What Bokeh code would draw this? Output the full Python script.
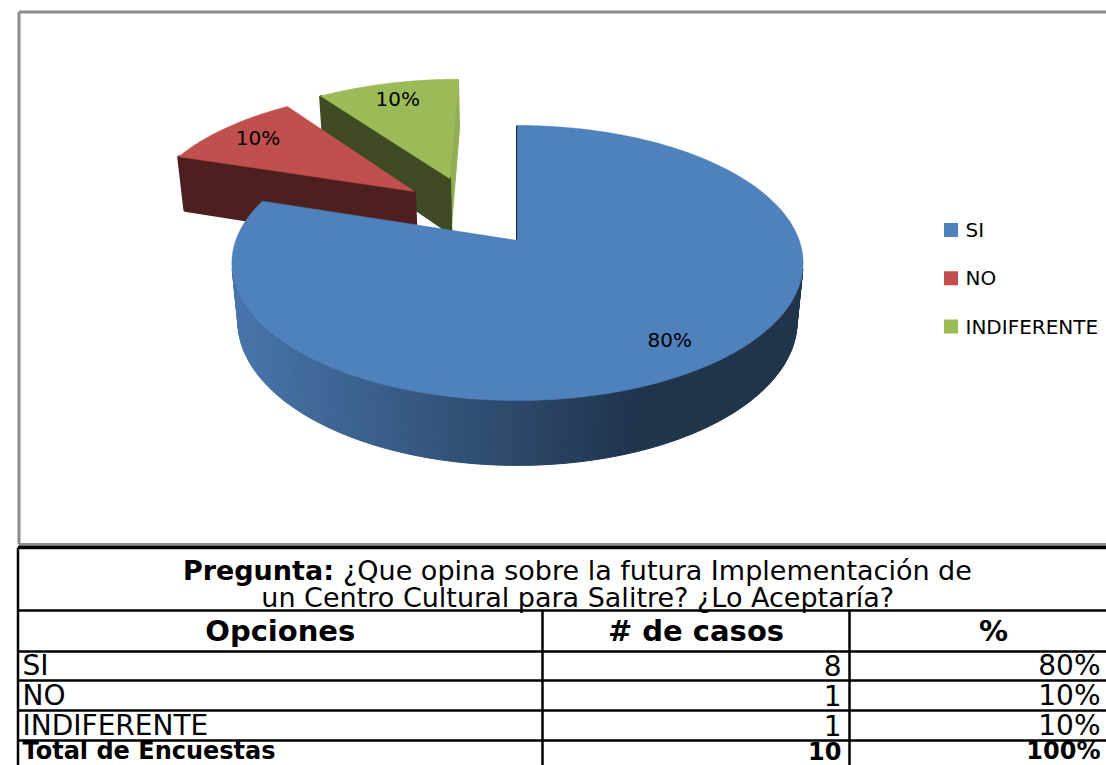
import numpy as np
from bokeh.plotting import figure
from bokeh.models import Range1d
from bokeh.core.properties import value
from bokeh.embed import file_html
from bokeh.resources import INLINE

# ---------------- data ----------------
options = ["SI", "NO", "INDIFERENTE"]
cases = [8, 1, 1]
percents = [80, 10, 10]
total_label = "Total de Encuestas"
total_cases = 10
total_percent = 100
headers = ["Opciones", "# de casos", "%"]
question_head = "Pregunta:"
question_line1 = "¿Que opina sobre la futura Implementación de"
question_line2 = "un Centro Cultural para Salitre? ¿Lo Aceptaría?"
slice_colors = [(79, 129, 189), (192, 80, 77), (155, 187, 89)]

# ---------------- figure (data units = page pixels) ----------------
W, H = 1106, 765
X0, Y0 = 0, 0
p = figure(width=W, height=H, x_range=Range1d(X0, X0 + W), y_range=Range1d(Y0 + H, Y0),
           output_backend="svg", toolbar_location=None, min_border=0,
           x_axis_location=None, y_axis_location=None)
p.grid.visible = False
p.outline_line_color = None
p.background_fill_color = "white"
p.border_fill_color = "white"

FONT = value("DejaVu Sans")


def hexc(rgb, f=1.0):
    return "#%02x%02x%02x" % tuple(int(round(max(0, min(255, c * f)))) for c in rgb)


# ---------------- chart frame ----------------
FRAME_L, FRAME_T, FRAME_B, FRAME_R = 18.5, 11.5, 544, 1137
p.segment(x0=[FRAME_L, FRAME_L, FRAME_L], y0=[FRAME_T, FRAME_T, FRAME_B],
          x1=[FRAME_L, FRAME_R, FRAME_R], y1=[FRAME_B, FRAME_T, FRAME_B],
          line_color="#8c8c8c", line_width=3)

# ---------------- 3D pie ----------------
CX, CY = 517.0, 240.0
FOC, DIST = 1515.8, 5.38
SE, CE = 0.475, 0.88
THICK = 0.238
CAM = np.array([0.0, -DIST * CE, DIST * SE])
EXPLODE = [(0.0, 0.0), (0.55, 315.0), (0.565, 332.5)]
LABEL_R = 0.82


def proj(X, Y, Z):
    X = np.asarray(X, float)
    Y = np.asarray(Y, float)
    Z = np.asarray(Z, float)
    depth = DIST + Y * CE - Z * SE
    up = Y * SE + Z * CE
    return CX + FOC * X / depth, CY - FOC * up / depth


total = sum(cases)
bounds = np.concatenate([[0.0], np.cumsum(cases)]) / total * 360.0
order = []
for i in range(len(cases)):
    d, ang = EXPLODE[i]
    ox, oy = d * np.sin(np.radians(ang)), d * np.cos(np.radians(ang))
    order.append((oy, i, bounds[i], bounds[i + 1], ox, oy))
order.sort(key=lambda s: -s[0])

pxs, pys, pfill, plw = [], [], [], []
lab_x, lab_y, lab_t = [], [], []


def add_poly(X, Y, Z, col, lw):
    sx, sy = proj(X, Y, Z)
    pxs.append(list(sx))
    pys.append(list(sy))
    pfill.append(col)
    plw.append(lw)


for _, i, a0, a1, ox, oy in order:
    base = slice_colors[i]
    walls = []
    # radial walls
    for a, sign in ((a0, -1.0), (a1, 1.0)):
        t = np.radians(a)
        n = np.array([sign * np.cos(t), -sign * np.sin(t), 0.0])
        ex, ey = ox + np.sin(t), oy + np.cos(t)
        P = np.array([ox + 0.5 * np.sin(t), oy + 0.5 * np.cos(t), -THICK / 2])
        if np.dot(n, CAM - P) > -1e-9:
            f = 0.4 if n[0] < -1e-9 else 0.93
            walls.append((np.linalg.norm(CAM - P),
                          [ox, ex, ex, ox], [oy, ey, ey, oy], [0, 0, -THICK, -THICK],
                          hexc(base, f), 3 if n[0] < -1e-9 else 1))
    # outer wall
    nseg = max(2, int(np.ceil(a1 - a0)))
    th = np.radians(np.linspace(a0, a1, nseg + 1))
    for k in range(nseg):
        tm = 0.5 * (th[k] + th[k + 1])
        n = np.array([np.sin(tm), np.cos(tm), 0.0])
        P = np.array([ox + np.sin(tm), oy + np.cos(tm), -THICK / 2])
        if np.dot(n, CAM - P) > 0:
            xm, _ = proj(P[0], P[1], 0.0)
            f = 0.9 - 0.5 * float(np.clip((xm - 240.0) / 400.0, 0, 1))
            xa, xb = ox + np.sin(th[k]), ox + np.sin(th[k + 1])
            ya, yb = oy + np.cos(th[k]), oy + np.cos(th[k + 1])
            walls.append((np.linalg.norm(CAM - P),
                          [xa, xb, xb, xa], [ya, yb, yb, ya], [0, 0, -THICK, -THICK],
                          hexc(base, f), 1))
    walls.sort(key=lambda w: -w[0])
    for w in walls:
        add_poly(w[1], w[2], w[3], w[4], w[5])
    # top face
    tx = np.concatenate([[ox], ox + np.sin(th)])
    ty = np.concatenate([[oy], oy + np.cos(th)])
    add_poly(tx, ty, np.zeros_like(tx), hexc(base), 0.5)
    # label
    am = np.radians(0.5 * (a0 + a1))
    lx, ly = proj(ox + LABEL_R * np.sin(am), oy + LABEL_R * np.cos(am), 0.0)
    lab_x.append(float(lx))
    lab_y.append(float(ly))
    lab_t.append(f"{percents[i]}%")

p.patches(xs=pxs, ys=pys, fill_color=pfill, line_color=pfill, line_width=plw)
p.text(x=lab_x, y=lab_y, text=lab_t, text_font=FONT, text_font_size=value("20px"),
       text_align="center", text_baseline="middle", text_color="black")

# ---------------- legend ----------------
LEG_X, LEG_Y, LEG_DY, KEY = 950.5, 229.5, 48.25, 14
ky = [LEG_Y + j * LEG_DY for j in range(len(options))]
p.rect(x=[LEG_X] * len(options), y=ky, width=KEY, height=KEY,
       fill_color=[hexc(c) for c in slice_colors], line_color=None)
p.text(x=[LEG_X + 14.5] * len(options), y=ky, text=options,
       text_font=FONT, text_font_size=value("20px"), text_align="left",
       text_baseline="middle", text_color="black")

# ---------------- table ----------------
TL, TR = 17.5, 1137.0
ROWS = [547.0, 610.0, 651.0, 680.0, 710.0, 740.0, 770.0]
COLS = [TL, 542.0, 849.0, TR]
TCX = 0.5 * (TL + TR)
VIEW_R = 1100.0
p.segment(x0=[TL] * (len(ROWS) - 1), y0=ROWS[:-1], x1=[TR] * (len(ROWS) - 1), y1=ROWS[:-1],
          line_color="black", line_width=[3.5] + [2.5] * (len(ROWS) - 2))
p.segment(x0=[TL, COLS[1], COLS[2], TR], y0=[ROWS[0], ROWS[1], ROWS[1], ROWS[0]],
          x1=[TL, COLS[1], COLS[2], TR], y1=[ROWS[-1]] * 4,
          line_color="black", line_width=2.5)

QFS = 27
head_w = 5.60 * QFS
gap_w = 0.33 * QFS
l1_w = 23.32 * QFS
start = TCX - (head_w + gap_w + l1_w) / 2
p.text(x=[start], y=[569.5], text=[question_head], text_font=FONT,
       text_font_size=value(f"{QFS}px"), text_font_style="bold",
       text_align="left", text_baseline="middle", text_color="black")
p.text(x=[start + head_w + gap_w, TCX], y=[569.5, 596.5], text=[question_line1, question_line2],
       text_font=FONT, text_font_size=value(f"{QFS}px"),
       text_align=["left", "center"], text_baseline="middle", text_color="black")

HFS = 29
hx = [0.5 * (COLS[k] + COLS[k + 1]) for k in range(3)]
hx[2] = 993.0
p.text(x=hx, y=[0.5 * (ROWS[1] + ROWS[2])] * 3, text=headers, text_font=FONT,
       text_font_size=value(f"{HFS}px"), text_font_style="bold", text_align="center",
       text_baseline="middle", text_color="black")

FS = 28
row_c = [0.5 * (ROWS[k] + ROWS[k + 1]) - 0.5 for k in range(2, 5)]
p.text(x=[TL + 4.5] * 3, y=row_c, text=options, text_font=FONT,
       text_font_size=value(f"{FS}px"), text_align="left", text_baseline="middle",
       text_color="black")
p.text(x=[COLS[2] - 8] * 3, y=row_c, text=[str(v) for v in cases], text_font=FONT,
       text_font_size=value(f"{FS}px"), text_align="right", text_baseline="middle",
       text_color="black")
p.text(x=[VIEW_R] * 3, y=row_c, text=[f"{v}%" for v in percents], text_font=FONT,
       text_font_size=value(f"{FS}px"), text_align="right", text_baseline="middle",
       text_color="black")

TFS = 24
tot_c = 750.5
p.text(x=[TL + 4.5], y=[tot_c], text=[total_label], text_font=FONT,
       text_font_size=value(f"{TFS}px"), text_font_style="bold", text_align="left",
       text_baseline="middle", text_color="black")
p.text(x=[COLS[2] - 8, VIEW_R], y=[tot_c] * 2, text=[str(total_cases), f"{total_percent}%"],
       text_font=FONT, text_font_size=value(f"{TFS}px"), text_font_style="bold",
       text_align="right", text_baseline="middle", text_color="black")

open("out.html", "w").write(file_html(p, INLINE))
